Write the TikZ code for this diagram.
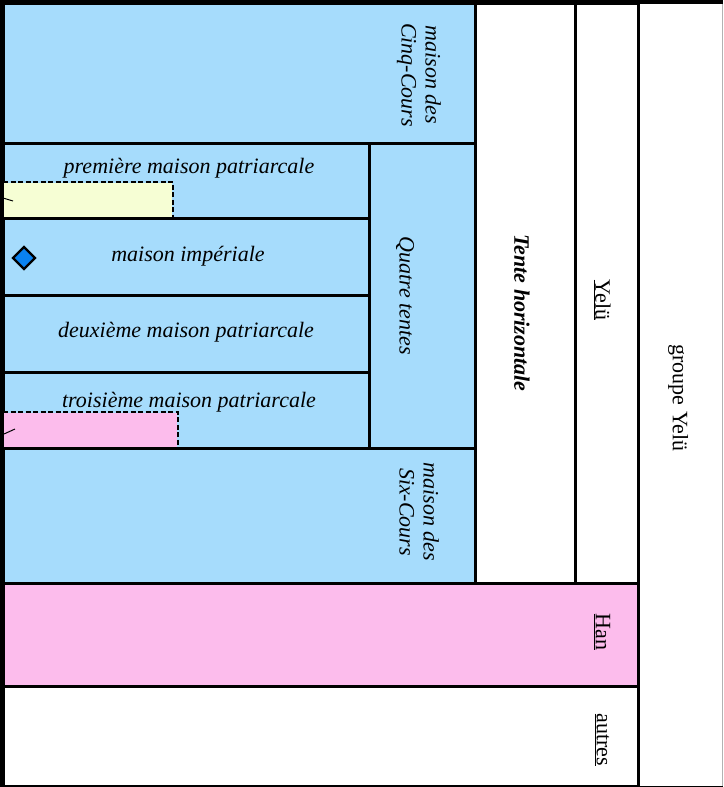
\documentclass[tikz,border=0pt]{standalone}
\usepackage{fontspec}
\setmainfont{Liberation Serif}
\usetikzlibrary{shapes.geometric}
\definecolor{bleu}{RGB}{166,220,252}
\definecolor{rose}{RGB}{252,188,236}
\definecolor{jaune}{RGB}{246,254,212}
\definecolor{losange}{RGB}{10,130,240}
\begin{document}
\begin{tikzpicture}[x=1pt,y=-1pt]
    \tikzstyle{case} = [draw=black, line width=3pt]
    \tikzstyle{pointille} = [draw=black, line width=1.5pt, dash pattern=on 5pt off 2.5pt]
    \tikzstyle{lbl} = [font=\fontsize{22}{24}\selectfont\itshape, align=center, inner sep=0pt]
    \tikzstyle{vlbl} = [lbl, rotate=-90]
    \tikzstyle{rlbl} = [font=\fontsize{22}{24}\selectfont, inner sep=0pt, rotate=-90]

    \useasboundingbox (0,0) rectangle (723,787);

    % grands blocs
    \path[fill=white, draw=gray!60, line width=1pt] (638,3) rectangle (722,786);
    \path[case, fill=bleu] (3,3) rectangle (475,583);
    \path[case, fill=white] (475,3) rectangle (575,583);
    \path[case, fill=white] (575,3) rectangle (638,583);
    \path[case, fill=rose] (3,583) rectangle (638,686);
    \path[case, fill=white] (3,686) rectangle (638,786);

    % maisons
    \path[case] (3,143) rectangle (475,448);
    \path[case] (369,143) -- (369,448);
    \path[case] (3,218) -- (369,218);
    \path[case] (3,295) -- (369,295);
    \path[case] (3,372) -- (369,372);

    % cases en pointilles
    \path[fill=jaune] (4,183) rectangle (172,216.5);
    \path[pointille] (3,182) -- (173,182) -- (173,217);
    \path[fill=rose] (4,413) rectangle (177,446.5);
    \path[pointille] (3,412) -- (178,412) -- (178,447);
    \draw[line width=1pt] (3,198) -- (13,201);
    \draw[line width=1pt] (4,434) -- (15,429);

    % bord exterieur
    \draw[line width=4.5pt] (2,787) -- (2,2) -- (723,2);
    \draw[line width=1pt] (0,786) -- (723,786);

    % textes
    \node (cinq) [vlbl] at (419,75) {maison des\\Cinq-Cours};
    \node (six) [vlbl] at (419,512) {maison des\\Six-Cours};
    \node (quatre) [vlbl] at (405,296) {Quatre tentes};
    \node (prem) [lbl] at (189,168) {première maison patriarcale};
    \node (imp) [lbl] at (188,256) {maison impériale};
    \node (deux) [lbl] at (186,332) {deuxième maison patriarcale};
    \node (trois) [lbl] at (189,402) {troisième maison patriarcale};
    \node (tente) [vlbl, font=\fontsize{22}{24}\selectfont\bfseries\itshape] at (522,313) {Tente horizontale};
    \node (yelu) [rlbl] at (602,300) {\underline{Yelü}};
    \node (han) [rlbl] at (602,632) {\underline{Han}};
    \node (autres) [rlbl] at (602,740) {\underline{autres}};
    \node (groupe) [rlbl] at (678,398) {groupe Yelü};

    \node (embleme) [diamond, draw=black, line width=2.4pt, fill=losange,
        minimum size=23pt, inner sep=0pt] at (24,258) {};
\end{tikzpicture}
\end{document}
